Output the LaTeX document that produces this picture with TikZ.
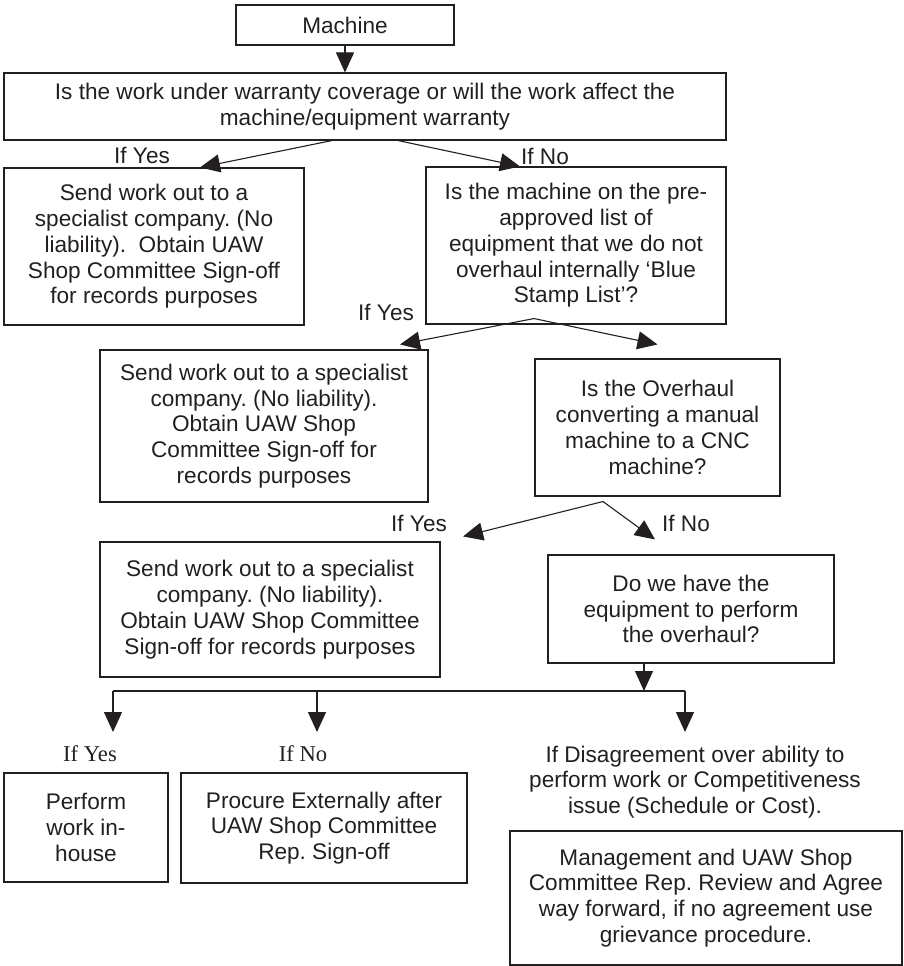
\documentclass[tikz,border=0pt]{standalone}
\usepackage{fontspec}
\usetikzlibrary{arrows.meta,calc}
\newfontfamily\flowsans{Liberation Sans}
\newfontfamily\flowserif{Liberation Serif}
\definecolor{ink}{RGB}{35,31,32}
\frenchspacing
\tikzset{
  flowbox/.style={draw=ink, line width=1.1pt, rectangle, inner sep=0pt, align=center,
    text=ink, font=\flowsans\fontsize{22.6}{25.8}\selectfont},
  flowlabel/.style={inner sep=0pt, text=ink, align=center,
    font=\flowsans\fontsize{22.6}{25.8}\selectfont},
  seriflabel/.style={inner sep=0pt, text=ink, font=\flowserif\fontsize{22.6}{25.8}\selectfont},
  flowarrow/.style={draw=ink, line width=1.1pt, -{Triangle[length=20pt,width=18pt]}},
  flowline/.style={draw=ink, line width=1.1pt},
}
\begin{document}
\begin{tikzpicture}[x=1pt,y=-1pt]
\useasboundingbox (0,0) rectangle (904,966);

% boxes
\node[flowbox, minimum width=218pt, minimum height=40pt] (mach) at (345,25) {Machine};
\node[flowbox, minimum width=722pt, minimum height=67pt] (warr) at (365,106.5)
  {Is the work under warranty coverage or will the work affect the\\machine/equipment warranty};
\node[flowbox, minimum width=300pt, minimum height=157pt] (sendA) at (154,246.5)
  {Send work out to a\\specialist company. (No\\liability).\ \ Obtain UAW\\Shop Committee Sign-off\\for records purposes};
\node[flowbox, minimum width=300pt, minimum height=157pt] (blue) at (576,245.5)
  {Is the machine on the pre-\\approved list of\\equipment that we do not\\overhaul internally ‘Blue\\Stamp List’?};
\node[flowbox, minimum width=328pt, minimum height=152pt] (sendB) at (264,426)
  {Send work out to a specialist\\company. (No liability).\\Obtain UAW Shop\\Committee Sign-off for\\records purposes};
\node[flowbox, minimum width=245pt, minimum height=137pt] (cnc) at (657.5,427.5)
  {Is the Overhaul\\converting a manual\\machine to a CNC\\machine?};
\node[flowbox, minimum width=340pt, minimum height=135pt] (sendC) at (270,609.5)
  {Send work out to a specialist\\company. (No liability).\\Obtain UAW Shop Committee\\Sign-off for records purposes};
\node[flowbox, minimum width=286pt, minimum height=108pt] (equip) at (691,609)
  {Do we have the\\equipment to perform\\the overhaul?};
\node[flowbox, minimum width=164pt, minimum height=109pt] (inhouse) at (86,827.5)
  {Perform\\work in-\\house};
\node[flowbox, minimum width=286pt, minimum height=110pt] (procure) at (324,828)
  {Procure Externally after\\UAW Shop Committee\\Rep. Sign-off};
\node[flowbox, minimum width=392pt, minimum height=134pt] (review) at (706,898)
  {Management and UAW Shop\\Committee Rep. Review and Agree\\way forward, if no agreement use\\grievance procedure.};
\node[flowlabel] (disagree) at (695,782)
  {If Disagreement over ability to\\perform work or Competitiveness\\issue (Schedule or Cost).};

% branch labels
\node[flowlabel] (yes1) at (142,155) {If Yes};
\node[flowlabel] (no1) at (545,156) {If No};
\node[flowlabel] (yes2) at (386,312) {If Yes};
\node[flowlabel] (yes3) at (419,523) {If Yes};
\node[flowlabel] (no3) at (686,523) {If No};
\node[seriflabel] (yes4) at (90,754) {If Yes};
\node[seriflabel] (no4) at (303,754) {If No};

% connectors
\draw[flowarrow] (mach.south) -- (mach.south |- warr.north);
\draw[flowarrow] ([xshift=-33pt]warr.south) -- ([xshift=46pt]sendA.north);
\draw[flowarrow] ([xshift=33pt]warr.south) -- ([xshift=-56pt]blue.north);

\coordinate (bluesplit) at ([xshift=-42pt,yshift=6pt]blue.south);
\draw[flowarrow] (bluesplit) -- ([xshift=136pt,yshift=5pt]sendB.north);
\draw[flowarrow] (bluesplit) -- ([yshift=14pt]cnc.north);

\coordinate (cncsplit) at ([xshift=-54.5pt,yshift=-5pt]cnc.south);
\draw[flowarrow] (cncsplit) -- ([xshift=193pt,yshift=5pt]sendC.north);
\draw[flowarrow] (cncsplit) -- ([xshift=-36pt,yshift=15pt]equip.north);

\coordinate (busL) at (113,691);
\coordinate (busM) at (317,691);
\coordinate (busR) at (685,691);
\coordinate (tipL) at (113,732);
\coordinate (tipM) at (317,732);
\coordinate (tipR) at (685,732);
\draw[flowarrow] ([xshift=-47pt]equip.south) -- ([xshift=-47pt]equip.south |- busR);
\draw[flowline] (busL) -- (busR);
\draw[flowarrow] (busL) -- (tipL);
\draw[flowarrow] (busM) -- (tipM);
\draw[flowarrow] (busR) -- (tipR);
\end{tikzpicture}
\end{document}
